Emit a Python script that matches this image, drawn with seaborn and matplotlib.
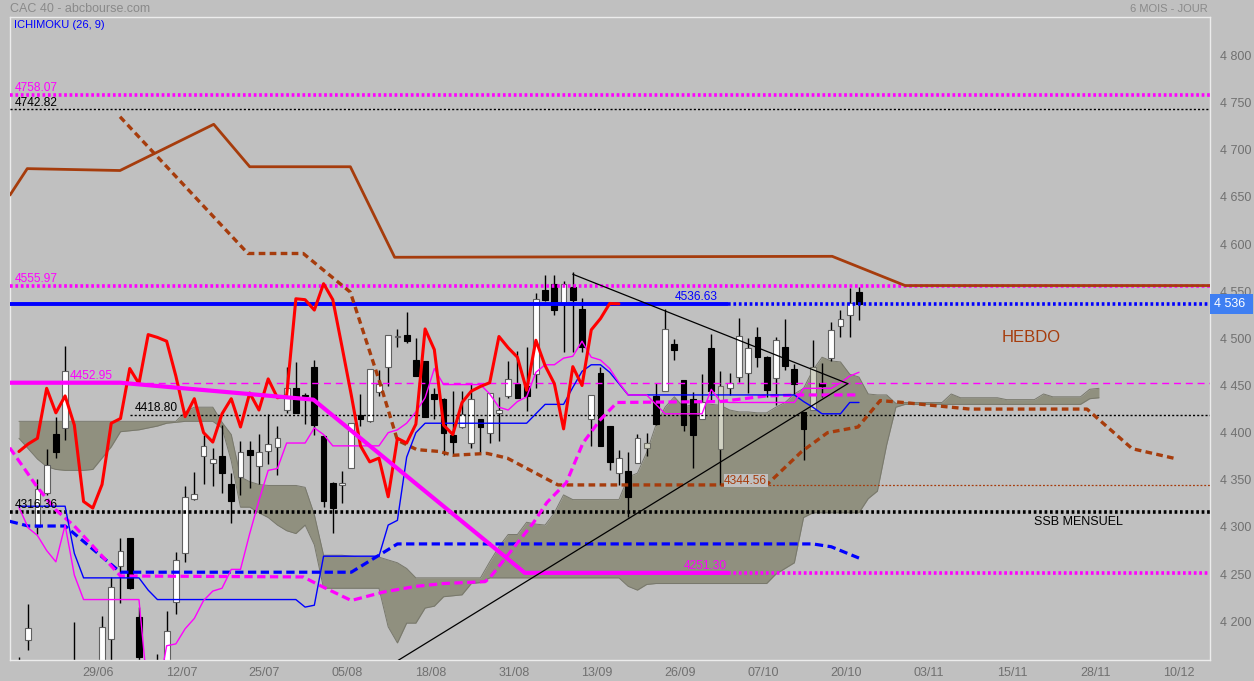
import numpy as np
import pandas as pd
import matplotlib
matplotlib.use("Agg")
import matplotlib.pyplot as plt
import matplotlib.transforms as mtransforms
import seaborn as sns

# ---------------- data ----------------
days = list(range(-9, 83))
opens = [4143, 4180, 4300, 4336, 4399, 4405, 4150, 4050, 4010, 4120, 4181, 4259, 4288, 4204, 4150, 4140,
         4140, 4220, 4272, 4330, 4375, 4368, 4375, 4346, 4353, 4382, 4365, 4381, 4385, 4424, 4447, 4440,
         4470, 4396, 4347, 4345, 4362, 4419, 4412, 4443, 4470, 4501, 4504, 4477, 4476, 4441, 4436, 4398,
         4406, 4389, 4414, 4400, 4421, 4439, 4452, 4449, 4462, 4551, 4558, 4538, 4554, 4531, 4415, 4463,
         4407, 4357, 4359, 4368, 4384, 4439, 4444, 4494, 4456, 4436, 4414, 4490, 4383, 4447, 4459, 4463,
         4501, 4480, 4458, 4491, 4467, 4422, 4424, 4453, 4479, 4513, 4525, 4549]
highs = [4162, 4218, 4351, 4383, 4417, 4492, 4199, 4080, 4090, 4206, 4247, 4288, 4288, 4215, 4154, 4165,
         4211, 4273, 4343, 4358, 4398, 4384, 4408, 4357, 4391, 4391, 4399, 4420, 4407, 4470, 4475, 4442,
         4477, 4398, 4348, 4359, 4410, 4441, 4468, 4466, 4504, 4510, 4528, 4500, 4476, 4447, 4437, 4444,
         4444, 4453, 4415, 4442, 4438, 4476, 4487, 4491, 4548, 4567, 4567, 4561, 4570, 4543, 4440, 4470,
         4407, 4382, 4380, 4399, 4400, 4453, 4531, 4499, 4456, 4443, 4462, 4505, 4465, 4463, 4522, 4500,
         4512, 4481, 4501, 4520, 4473, 4422, 4498, 4474, 4517, 4530, 4553, 4554]
lows = [4103, 4170, 4293, 4334, 4373, 4392, 4080, 3955, 3990, 4110, 4150, 4219, 4234, 4140, 4110, 4120,
        4130, 4208, 4263, 4329, 4346, 4343, 4336, 4304, 4334, 4341, 4346, 4367, 4355, 4421, 4421, 4409,
        4397, 4321, 4294, 4325, 4362, 4407, 4411, 4439, 4449, 4491, 4495, 4460, 4417, 4414, 4376, 4376,
        4405, 4384, 4378, 4389, 4391, 4437, 4437, 4423, 4447, 4540, 4525, 4486, 4486, 4486, 4386, 4386,
        4360, 4344, 4311, 4368, 4375, 4408, 4444, 4477, 4402, 4363, 4414, 4435, 4344.56, 4440, 4454, 4442,
        4470, 4438, 4429, 4466, 4441, 4371, 4424, 4438, 4476, 4501, 4501, 4519]
closes = [4153, 4193, 4340, 4366, 4379, 4465, 4106, 3985, 4086, 4194, 4236, 4274, 4235, 4162, 4140, 4150,
          4190, 4265, 4332, 4335, 4386, 4372, 4357, 4328, 4379, 4376, 4380, 4388, 4394, 4447, 4421, 4439,
          4408, 4327, 4320, 4345, 4410, 4415, 4468, 4452, 4504, 4501, 4497, 4460, 4417, 4436, 4400, 4390,
          4420, 4436, 4406, 4442, 4424, 4457, 4437, 4439, 4542, 4541, 4530, 4558, 4541, 4491, 4440, 4386,
          4369, 4373, 4332, 4394, 4389, 4409, 4510, 4488, 4408, 4398, 4432, 4444, 4449, 4453, 4502, 4490,
          4480, 4445, 4498, 4471, 4452, 4404, 4470, 4450, 4509, 4521, 4537, 4536.63]

tenkan = [4321, 4299, 4291, 4275, 4263, 4302, 4249, 4223, 4223, 4223, 4223, 4223, 4223, 4223, 4120, 4120,
          4174, 4176, 4192, 4203, 4222, 4232, 4235, 4255, 4255, 4293, 4328, 4360, 4362, 4389, 4389, 4389,
          4405, 4398, 4386, 4386, 4386, 4386, 4386, 4386, 4400, 4403, 4410, 4422, 4437, 4468, 4451, 4451,
          4451, 4451, 4451, 4441, 4427, 4424, 4433, 4438, 4464, 4472, 4472, 4479, 4481, 4497, 4480, 4477,
          4468, 4453, 4440, 4440, 4440, 4430, 4420, 4420, 4420, 4420, 4420, 4446, 4433, 4432, 4432, 4432,
          4432, 4432, 4432, 4432, 4432, 4447, 4447, 4447, 4447, 4453, 4460, 4464]
kijun = [4322, 4322, 4322, 4322, 4322, 4322, 4272, 4246, 4246, 4246, 4246, 4246, 4246, 4246, 4233, 4223,
         4223, 4223, 4223, 4223, 4223, 4223, 4223, 4223, 4223, 4223, 4223, 4223, 4223, 4223, 4223, 4215,
         4217, 4269, 4269, 4269, 4269, 4269, 4269, 4269, 4302, 4307, 4374, 4400, 4410, 4410, 4410, 4410,
         4410, 4410, 4410, 4410, 4410, 4410, 4410, 4410, 4420, 4430, 4430, 4430, 4448, 4465, 4472, 4472,
         4464, 4452, 4440, 4440, 4440, 4440, 4440, 4440, 4440, 4440, 4440, 4440, 4440, 4440, 4440, 4440,
         4440, 4440, 4440, 4440, 4440, 4433, 4427, 4420, 4420, 4420, 4432, 4432]

cloud_days = list(range(-9, 109))
cloud_upper = [4412, 4412, 4412, 4412, 4412, 4412, 4412, 4412, 4412, 4412, 4412, 4412, 4412, 4412, 4412, 4412,
               4412, 4412, 4422, 4427, 4427, 4427, 4411, 4398, 4353, 4348, 4345, 4344, 4344, 4344, 4344, 4342,
               4313, 4270, 4270, 4270, 4269, 4268, 4268, 4268, 4265, 4262, 4256, 4246, 4246, 4246, 4246, 4246,
               4246, 4246, 4246, 4263, 4279, 4292, 4292, 4305, 4303, 4302, 4315, 4334, 4329, 4329, 4329, 4329,
               4329, 4329, 4353, 4357, 4379, 4408, 4427, 4438, 4427, 4430, 4431, 4430, 4429, 4424, 4422, 4422,
               4421, 4421, 4427, 4432, 4441, 4447, 4466, 4480, 4476, 4475, 4462, 4459, 4441, 4440, 4440, 4431,
               4432, 4432, 4432, 4432, 4432, 4441, 4437, 4437, 4437, 4437, 4437, 4435, 4435, 4435, 4435, 4441,
               4438, 4438, 4438, 4438, 4446, 4447]
cloud_lower = [4394, 4383, 4372, 4364, 4361, 4360, 4360, 4360, 4361, 4373, 4385, 4401, 4402, 4403, 4405, 4407,
               4410, 4411, 4412, 4412, 4412, 4412, 4405, 4370, 4321, 4321, 4315, 4310, 4302, 4296, 4293, 4302,
               4281, 4235, 4235, 4235, 4235, 4235, 4235, 4235, 4194, 4177, 4198, 4198, 4214, 4216, 4226, 4227,
               4228, 4240, 4241, 4246, 4246, 4246, 4246, 4246, 4246, 4246, 4246, 4246, 4246, 4246, 4246, 4246,
               4246, 4246, 4237, 4233, 4239, 4240, 4240, 4240, 4240, 4240, 4240, 4240, 4240, 4240, 4240, 4240,
               4240, 4240, 4250, 4256, 4262, 4310, 4315, 4315, 4315, 4315, 4315, 4315, 4330, 4338, 4387, 4427,
               4430, 4430, 4430, 4430, 4430, 4430, 4430, 4430, 4430, 4430, 4430, 4430, 4430, 4430, 4430, 4430,
               4430, 4430, 4430, 4430, 4436, 4437]

# long-period lines (breakpoints: day, value)
kijun_long_days = [-10, -8, -4, 2, 27, 32, 77, 79, 82]
kijun_long_vals = [4306, 4301, 4301, 4252, 4252, 4282, 4282, 4279, 4267]
tenkan_long_days = [-10, -7, -5, -3, 2, 21.8, 23.8, 27, 30.5, 34, 37, 41.5, 42, 46.7, 48.2, 50.3, 52.1, 54,
                    55.8, 67, 69.5, 72, 76, 82]
tenkan_long_vals = [4384, 4342, 4318, 4301, 4248, 4247, 4237, 4222, 4231, 4237, 4240, 4242, 4246, 4304, 4326,
                    4347, 4389, 4414, 4432, 4433, 4436, 4439, 4440, 4440]
weekly_solid_days = [-9.97, -8.1, 1.95, 12.1, 16.0, 26.9, 31.7, 79.1, 87.0, 120]
weekly_solid_vals = [4652, 4680, 4678, 4727, 4682, 4682, 4586, 4587, 4556, 4556]
weekly_dash_days = [1.95, 15.8, 21.8, 26.9, 28.7, 30.1, 32.0, 34.1, 36.6, 38.0, 41.7, 43.9, 49.4, 72.0, 75.8,
                    78.6, 81.9, 84.3, 86.8, 94.0, 106.7, 111.6, 116.5]
weekly_dash_vals = [4735, 4590, 4590, 4549, 4495, 4453, 4392, 4382, 4380, 4376, 4378, 4373, 4344.56, 4344.56,
                    4380, 4400, 4406, 4434, 4432, 4425, 4425, 4383, 4372]
trend_days = [-10, 1.95, 22.9, 45.8, 67.8]
trend_vals = [4452.95, 4452.95, 4435, 4251.30, 4251.30]
tri_upper_days = [51.0, 80.8]
tri_upper_vals = [4568, 4452]
tri_lower_days = [30.0, 80.8]
tri_lower_vals = [4146, 4452]

levels = {"4758.07": 4758.07, "4742.82": 4742.82, "4555.97": 4555.97, "4536.63": 4536.63,
          "4452.95": 4452.95, "4418.80": 4418.80, "4344.56": 4344.56, "4316.36": 4316.36,
          "4251.30": 4251.30}
xtick_labels = ["29/06", "12/07", "25/07", "05/08", "18/08", "31/08", "13/09", "26/09", "07/10",
                "20/10", "03/11", "15/11", "28/11", "10/12"]
ytick_vals = [4200, 4250, 4300, 4350, 4400, 4450, 4500, 4550, 4600, 4650, 4700, 4750, 4800]

# ---------------- style ----------------
sns.set_theme(style="white")
BG = "#c0c0c0"
plt.rcParams["font.family"] = ["Liberation Sans", "DejaVu Sans"]
plt.rcParams["axes.facecolor"] = BG
plt.rcParams["figure.facecolor"] = BG

MAG = "#ff00ff"
BLUE = "#0000ff"
BROWN = "#a63c0c"
RED = "#ff0000"

fig = plt.figure(figsize=(12.54, 6.81), dpi=100)
ax = fig.add_axes([10 / 1254, 1 - 660 / 681, 1200 / 1254, 643 / 681])
ax.set_facecolor(BG)
X0, X1 = -9.97, 120.03
Y0, Y1 = 4158.9, 4840.8
ax.set_xlim(X0, X1)
ax.set_ylim(Y0, Y1)

# cloud
cdf = pd.DataFrame({"day": cloud_days, "upper": cloud_upper, "lower": cloud_lower})
ax.fill_between(cdf["day"], cdf["lower"], cdf["upper"], color="#90907f", lw=0, zorder=1)
sns.lineplot(data=cdf, x="day", y="upper", ax=ax, color="#78786c", lw=0.7, zorder=1.1)
sns.lineplot(data=cdf, x="day", y="lower", ax=ax, color="#78786c", lw=0.7, zorder=1.1)

# candles
ohlc = pd.DataFrame({"day": days, "open": opens, "high": highs, "low": lows, "close": closes})
gray_days = {59, 67, 77}
ax.vlines(ohlc["day"], ohlc["low"], ohlc["high"], color="black", lw=1, zorder=2)
for _, r in ohlc.iterrows():
    lo, hi = min(r.open, r.close), max(r.open, r.close)
    h = max(hi - lo, 1.2)
    if int(r.day) in gray_days:
        fc, ec = "#d2d3c4", "#6f6f66"
    elif r.close >= r.open:
        fc, ec = "white", "#606060"
    else:
        fc, ec = "black", "black"
    ax.bar(r.day, h, bottom=lo, width=0.62, color=fc, edgecolor=ec, lw=0.8, zorder=2.2)

# horizontal levels
def hline(v, x0, x1, color, lw, ls, z=3):
    ax.plot([x0, x1], [v, v], color=color, lw=lw, ls=ls, zorder=z, solid_capstyle="butt")

hline(4758.07, X0, X1, MAG, 2.6, (0, (0.75, 0.75)))
hline(4742.82, X0, X1, "black", 1.0, (0, (1.5, 1.5)))
hline(4555.97, X0, X1, MAG, 2.6, (0, (0.75, 0.75)))
hline(4536.63, X0, 67.8, BLUE, 2.8, "-")
hline(4536.63, 67.8, X1, BLUE, 2.6, (0, (0.75, 0.75)))
hline(4452.95, 1.0, X1, MAG, 1.0, (0, (5, 3.5)))
hline(4418.80, 3.0, X1, "black", 1.0, (0, (1.5, 1.5)))
hline(4344.56, 66.9, X1, BROWN, 0.9, (0, (1.5, 1.5)))
hline(4316.36, X0, X1, "black", 2.6, (0, (0.75, 0.75)))
hline(4251.30, 67.8, X1, MAG, 2.6, (0, (0.75, 0.75)))

# weekly lines
wsd = pd.DataFrame({"day": weekly_solid_days, "v": weekly_solid_vals})
sns.lineplot(data=wsd, x="day", y="v", ax=ax, color=BROWN, lw=2, zorder=3)
wdd = pd.DataFrame({"day": weekly_dash_days, "v": weekly_dash_vals})
sns.lineplot(data=wdd, x="day", y="v", ax=ax, color=BROWN, lw=2.4, ls=(0, (2.0, 1.3)), zorder=3)

# long-period dashed lines
kld = pd.DataFrame({"day": kijun_long_days, "v": kijun_long_vals})
sns.lineplot(data=kld, x="day", y="v", ax=ax, color=BLUE, lw=2.3, ls=(0, (2.6, 1.4)), zorder=3)
tld = pd.DataFrame({"day": tenkan_long_days, "v": tenkan_long_vals})
sns.lineplot(data=tld, x="day", y="v", ax=ax, color=MAG, lw=2.3, ls=(0, (2.6, 1.4)), zorder=3)

# daily ichimoku lines
ich = pd.DataFrame({"day": days, "tenkan": tenkan, "kijun": kijun})
sns.lineplot(data=ich, x="day", y="kijun", ax=ax, color=BLUE, lw=1.0, zorder=3.2)
sns.lineplot(data=ich, x="day", y="tenkan", ax=ax, color=MAG, lw=1.0, zorder=3.2)
chikou = ohlc.assign(lag_day=ohlc["day"] - 26)
chikou = chikou[chikou["lag_day"] >= -9]
sns.lineplot(data=chikou, x="lag_day", y="close", ax=ax, color=RED, lw=2.2, zorder=3.4)

# drawn trend lines
trd = pd.DataFrame({"day": trend_days, "v": trend_vals})
sns.lineplot(data=trd, x="day", y="v", ax=ax, color=MAG, lw=3, zorder=3.5)
ax.plot(tri_upper_days, tri_upper_vals, color="black", lw=0.9, zorder=3.5)
ax.plot(tri_lower_days, tri_lower_vals, color="black", lw=0.9, zorder=3.5)

# labels on levels
def lab(x, v, s, color, ha="left", bg=False):
    kw = dict(fontsize=8.6, color=color, ha=ha, va="bottom", zorder=6)
    if bg:
        kw["bbox"] = dict(boxstyle="square,pad=0.05", fc=BG, ec="none")
    ax.text(x, v + 0.8, s, **kw)

lab(-9.45, levels["4758.07"], "4758.07", MAG)
lab(-9.45, levels["4742.82"], "4742.82", "black")
lab(-9.45, levels["4555.97"], "4555.97", MAG)
lab(66.7, levels["4536.63"], "4536.63", BLUE, ha="right")
lab(-3.5, levels["4452.95"], "4452.95", MAG)
lab(3.55, levels["4418.80"], "4418.80", "black")
lab(67.4, levels["4344.56"] - 2.5, "4344.56", BROWN, bg=True)
lab(-9.45, levels["4316.36"], "4316.36", "black")
lab(67.7, levels["4251.30"], "4251.30", MAG, ha="right")
ax.text(105.8, 4316.36 - 5, "SSB MENSUEL", fontsize=9, color="black", ha="center", va="top", zorder=6)
ax.text(100.7, 4500.4, "HEBDO", fontsize=12, color=BROWN, ha="center", va="center", zorder=6)
ax.text(0.0035, 1 - 3 / 643, "ICHIMOKU (26, 9)", transform=ax.transAxes, fontsize=8,
        color=BLUE, ha="left", va="top", zorder=6)

# axes
ax.set_xlabel("")
ax.set_ylabel("")
ax.set_xticks([9 * k - 0.4 for k in range(len(xtick_labels))])
ax.set_xticklabels(xtick_labels)
ax.yaxis.tick_right()
ax.set_yticks(ytick_vals)
ax.set_yticklabels([f"{v:,}".replace(",", " ") for v in ytick_vals])
ax.tick_params(axis="both", length=0, colors="#707070", labelsize=9)
ax.tick_params(axis="y", pad=7)
ax.tick_params(axis="x", pad=5)
for sp in ax.spines.values():
    sp.set_visible(True)
    sp.set_color("#ececec")
    sp.set_linewidth(1)

trans = mtransforms.blended_transform_factory(ax.transAxes, ax.transData)
ax.text(1.0035, 4536.63, "4 536 ", transform=trans, fontsize=9, color="white", ha="left", va="center",
        bbox=dict(boxstyle="square,pad=0.3", fc="#3f7ff2", ec="none"), zorder=7, clip_on=False)

fig.text(10 / 1254, 1 - 9 / 681, "CAC 40 - abcbourse.com", fontsize=9, color="#8a8a8a", ha="left", va="center")
fig.text(1208 / 1254, 1 - 9 / 681, "6 MOIS - JOUR", fontsize=8, color="#8a8a8a", ha="right", va="center")

fig.savefig("out.png", dpi=100, facecolor=BG)
